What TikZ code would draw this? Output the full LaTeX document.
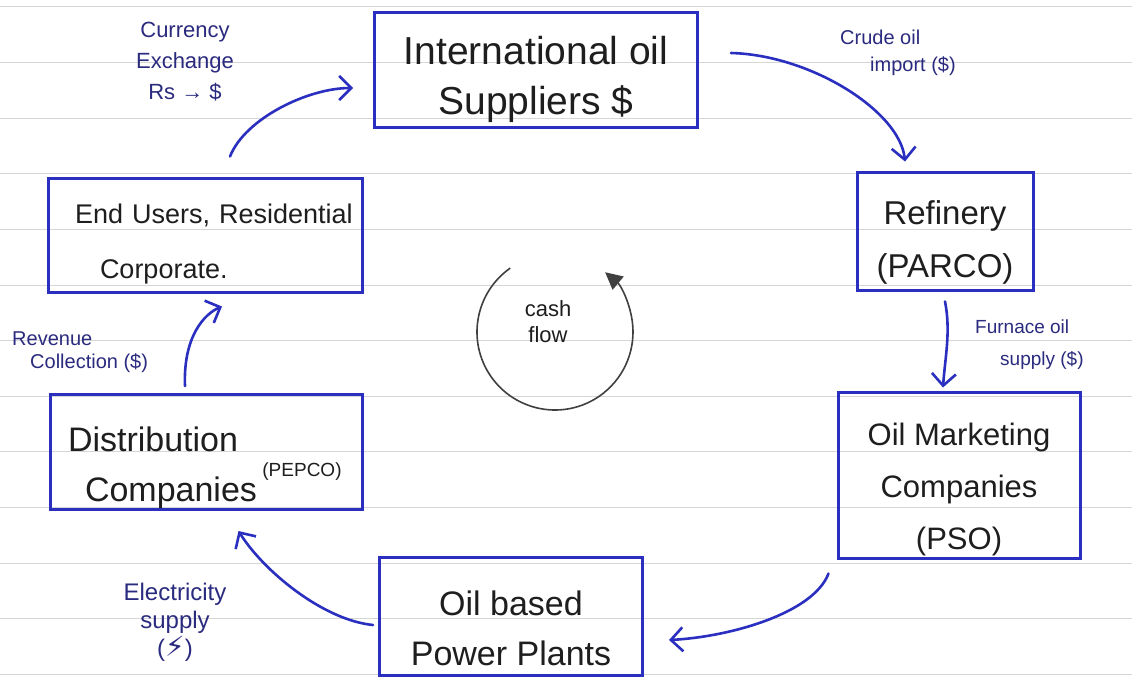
\documentclass[tikz,border=0pt]{standalone}
\usepackage{fontspec}
\setmainfont{Liberation Sans}
\newfontfamily\symfont{DejaVu Sans}
\usetikzlibrary{arrows.meta}
\definecolor{pen}{HTML}{2B2FC0}
\definecolor{ink}{HTML}{1E1E1E}
\definecolor{navy}{HTML}{2A2A7E}
\definecolor{paperline}{HTML}{D6D6D6}
\begin{document}
\begin{tikzpicture}[x=1pt,y=-1pt,
  box/.style={draw=pen,line width=3pt,rectangle,inner sep=0pt},
  boxtext/.style={text=ink,inner sep=0pt},
  arr/.style={draw=pen,line width=2.6pt,line cap=round,-{Straight Barb[length=12pt,width=24pt,line width=2.6pt]}},
  lbl/.style={text=navy,inner sep=0pt},
]
\useasboundingbox (0,0) rectangle (1132,682);
\fill[white] (0,0) rectangle (1132,682);
\foreach \k in {0,...,12} \draw[paperline,line width=1pt] (0,{7+55.6*\k}) -- (1132,{7+55.6*\k});

% boxes
\node[box,minimum width=323pt,minimum height=115pt] (sup) at (536,70) {};
\node[boxtext,align=center,font=\fontsize{39}{50}\selectfont] (suptxt) at ([yshift=-9pt]sup.center) {International oil\\Suppliers \$};
\node[box,minimum width=176pt,minimum height=118pt] (ref) at (945,231) {};
\node[boxtext,align=center,font=\fontsize{33}{53}\selectfont] (reftxt) at ([yshift=-11pt]ref.center) {Refinery\\(PARCO)};
\node[box,minimum width=242pt,minimum height=166pt] (omc) at (959,475) {};
\node[boxtext,align=center,font=\fontsize{31}{52}\selectfont] (omctxt) at ([yshift=-14pt]omc.center) {Oil Marketing\\Companies\\(PSO)};
\node[box,minimum width=263pt,minimum height=118pt] (pow) at (511,616) {};
\node[boxtext,align=center,font=\fontsize{34}{50}\selectfont] (powtxt) at ([yshift=-12pt]pow.center) {Oil based\\Power Plants};
\node[box,minimum width=312pt,minimum height=115pt] (dist) at (206,452) {};
\node[boxtext,text width=300pt,align=left,font=\fontsize{34}{50}\selectfont] (disttxt) at ([yshift=-16pt]dist.center) {\hspace*{12pt}Distribution\\\hspace*{29pt}Companies};
\node[boxtext,font=\fontsize{19}{22}\selectfont] (pepco) at (302,472) {(PEPCO)};
\node[box,minimum width=314pt,minimum height=114pt] (usr) at (205,235) {};
\node[boxtext,text width=300pt,align=left,font=\fontsize{27}{55}\selectfont] (usrtxt) at ([yshift=-9pt]usr.center) {\hspace*{20pt}End Users, Residential\\\hspace*{45pt}Corporate.};

% labels
\node[lbl,align=center,font=\fontsize{22}{31}\selectfont] (cur) at (185,62) {Currency\\Exchange\\Rs → \$};
\node[lbl,align=left,anchor=west,font=\fontsize{20}{27}\selectfont] (crude) at (840,53) {Crude oil\\\hspace*{30pt}import (\$)};
\node[lbl,align=left,anchor=west,font=\fontsize{19}{32}\selectfont] (furn) at (975,345) {Furnace oil\\\hspace*{25pt}supply (\$)};
\node[lbl,align=left,anchor=west,font=\fontsize{20}{23}\selectfont] (rev) at (12,352) {Revenue\\\hspace*{18pt}Collection (\$)};
\node[lbl,align=center,font=\fontsize{24}{28}\selectfont] (elec) at (175,622) {Electricity\\supply\\({\symfont\fontsize{28}{28}\selectfont ⚡})};
\node[lbl,text=ink,align=center,font=\fontsize{22}{26}\selectfont] (cash) at (548,322) {cash\\flow};

% connectors
\draw[arr] ([shift={(32,-17)}]sup.east) .. controls +(80,2) and +(-5,-50) .. ([shift={(-40,-9)}]ref.north);
\draw[arr] ([shift={(0,10)}]ref.south) .. controls +(6,30) and +(2,-30) .. ([shift={(-16,-3)}]omc.north);
\draw[arr] ([shift={(-8,14)}]omc.south west) .. controls +(-15,40) and +(60,-3) .. ([shift={(25,24)}]pow.east);
\draw[arr] ([shift={(-5,9)}]pow.west) .. controls +(-50,-5) and +(25,40) .. ([shift={(-125,20)}]dist.south east);
\draw[arr] ([shift={(-21,-7)}]dist.north) .. controls +(-2,-50) and +(-17,7) .. ([shift={(17,13)}]usr.south);
\draw[arr] ([shift={(25,-20)}]usr.north) .. controls +(15,-38) and +(-45,0) .. ([shift={(-20,18)}]sup.west);

% cash flow cycle
\draw[ink!85,line width=1.6pt,-{Triangle[length=17pt,width=17pt]}] (cash) ++(7,10) ++(235:78) arc[start angle=235,end angle=-50,radius=78];
\end{tikzpicture}
\end{document}
